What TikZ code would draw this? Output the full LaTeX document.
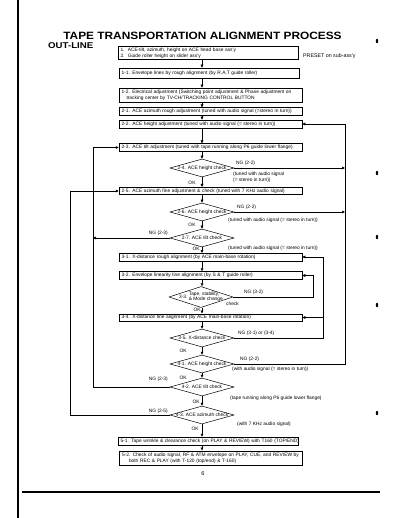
\documentclass[tikz,border=0pt]{standalone}
\usepackage{fontspec}
\setmainfont{Liberation Sans}
\usepackage{graphicx}
\usetikzlibrary{shapes.geometric,arrows.meta}
\newcommand{\dt}[1]{\makebox[0pt]{\raisebox{-1.6pt}[0pt][0pt]{#1}}}
\newcommand{\bxl}[1]{\mbox{#1}}
\begin{document}
\begin{tikzpicture}[x=1pt,y=-1pt,
  every node/.style={font=\fontsize{4.85}{5.8}\selectfont, inner sep=0pt},
  box/.style={draw, line width=0.5pt, rectangle, align=left, inner xsep=2.5pt, inner ysep=0.8pt, text width=#1},
  box/.default=178pt,
  dia/.style={draw, line width=0.5pt, diamond, minimum width=64pt, minimum height=18pt, inner sep=0pt},
  arr/.style={line width=0.5pt, -{Triangle[length=3pt,width=2.6pt]}}
]
\useasboundingbox (0,0) rectangle (400,518);
% page edges from the scan
\draw[line width=1.6pt] (18,0) -- (18,518);
\draw[line width=1.3pt] (22,492) -- (380,492);
\foreach \yy in {41,173,237,305,413} \fill (377,\yy) ellipse (1.2pt and 2.2pt);

% title
\node (title) at (202.5,35.8) {\scalebox{1.12}[1]{\fontsize{10.6}{12}\selectfont\bfseries TAPE TRANSPORTATION ALIGNMENT PROCESS}};
\node[anchor=west] (outline) at (48,45.5) {\scalebox{1.15}[1]{\fontsize{8.4}{10}\selectfont\bfseries OUT-LINE}};

% axis coordinates
\coordinate (ax) at (202,0);
\coordinate (r1) at (345,0);
\coordinate (r2) at (323,0);
\coordinate (r3) at (313,0);
\coordinate (l1) at (93,0);
\coordinate (l2) at (70,0);

% boxes and decisions
\node[box=175pt, minimum height=13.5pt] (b0) at (208,53) {\bxl{1.\ \ ACE-tilt, azimuth, height on ACE head base ass'y}\\\bxl{2.\ \ Guide roller height on slider ass'y}};
\node[anchor=west, font=\fontsize{5.3}{6}\selectfont] (pre) at (303,56) {PRESET on sub-ass'y};
\node[box=175pt, minimum height=10pt] (b11) at (209,73) {\bxl{1-1. Envelope lines by rough alignment (by R.A.T guide roller)}};
\node[box, minimum height=14pt] (b12) at (210.5,95) {\bxl{1-2. Electrical adjustment (Switching point adjustment \& Phase adjustment on}\\\bxl{\hspace*{5pt}tracking center by TV-CH/TRACKING CONTROL BUTTON}};
\node[box, minimum height=7.5pt] (b21) at (210.5,111.5) {\bxl{2-1. ACE azimuth rough adjustment (tuned with audio signal (=stereo in turn))}};
\node[box, minimum height=8pt] (b22) at (210.5,124) {\bxl{2-2. ACE height adjustment (tuned with audio signal (= stereo in turn))}};
\node[box, minimum height=7.5pt] (b23) at (210.5,147.5) {\bxl{2-3. ACE tilt adjustment (tuned with tape running along P6 guide lower flange)}};
\node[dia] (d24) at (202,168) {\dt{2-4. ACE height check}};
\node[box, minimum height=7.5pt] (b25) at (210.5,191) {\bxl{2-5. ACE azimuth fine adjustment \& check (tuned with 7 KHz audio signal)}};
\node[dia] (d26) at (202,212) {\dt{2-6. ACE height check}};
\node[dia] (d27) at (202,238) {\dt{2-7. ACE tilt check}};
\node[box, minimum height=7.5pt] (b31) at (210.5,257) {\bxl{3-1. X-distance rough alignment (by ACE main-base rotation)}};
\node[box, minimum height=8pt] (b32) at (210.5,275.5) {\bxl{3-2. Envelope linearity line alignment (by S \& T guide roller)}};
\node[dia, minimum height=21pt] (d33) at (201,297) {\dt{3-3.\ \renewcommand{\arraystretch}{0.8}\begin{tabular}[c]{@{}l@{}}Tape, stability,\\ \& Mode change\end{tabular}}};
\node[box, minimum height=7.5pt] (b34) at (210.5,317.5) {\bxl{3-4. X-distance fine alignment (by ACE main-base rotation)}};
\node[dia] (d35) at (202,338) {\dt{3-5. X-distance check}};
\node[dia] (d41) at (202,364) {\dt{4-1. ACE height check}};
\node[dia] (d42) at (202,387) {\dt{4-2. ACE tilt check}};
\node[dia] (d43) at (202,415) {\dt{4-3. ACE azimuth check}};
\node[box=175pt, minimum height=8pt] (b51) at (208,441) {\bxl{5-1. Tape wrinkle \& clearance check (on PLAY \& REVIEW) with T160 (TOP/END)}};
\node[box, minimum height=14.5pt] (b52) at (211,458) {\bxl{5-2. Check of audio signal, RF \& ATM envelope on PLAY, CUE, and REVIEW by}\\\bxl{\hspace*{7pt}both REC \& PLAY (with T-120 (top/end) \& T-160)}};

% main flow
\foreach \a/\b in {b0/b11,b11/b12,b12/b21,b21/b22,b22/b23,b23/d24,d24/b25,b25/d26,d26/d27,d27/b31,b31/b32,b32/d33,d33/b34,b34/d35,d35/d41,d41/d42,d42/d43,d43/b51,b51/b52}
  \draw[arr] (\a.south -| ax) -- (\b.north -| ax);

% OK labels
\node (ok1) at (192,182.5) {OK};
\node (ok2) at (192,225) {OK};
\node (ok3) at (196,248.5) {OK};
\node (ok4) at (197,309.5) {OK};
\node (ok5) at (183,351) {OK};
\node (ok6) at (183,377.5) {OK};
\node (ok7) at (196,401.5) {OK};
\node (ok8) at (195,429) {OK};

% NG loops to the right
\draw[arr] (d24.east) -- (d24.east -| r1);
\draw[arr] (d26.east) -- (d26.east -| r1);
\draw[arr] (d41.east) -- (d41.east -| r1) -- (b22.east -| r1) -- (b22.east);
\draw[arr] (d33.east) -- (d33.east -| r3) -- (b32.east -| r3) -- (b32.east);
\draw[arr] (d35.east) -- (d35.east -| r2) -- (b31.east -| r2) -- (b31.east);
\draw[arr] (b34.east -| r2) -- (b34.east);

% NG loops to the left
\draw[arr] (d27.west) -- (d27.west -| l1);
\draw[arr] (d42.west) -- (d42.west -| l1) -- (b23.west -| l1) -- (b23.west);
\draw[arr] (d43.west) -- (d43.west -| l2) -- (b25.west -| l2) -- (b25.west);

% NG labels
\node[anchor=west] (ng24) at (236,163) {NG (2-2)};
\node[anchor=west, align=left] (t24) at (233,177.5) {(tuned with audio signal\\(= stereo in turn))};
\node[anchor=west] (ng26) at (237,207) {NG (2-2)};
\node[anchor=west] (t26) at (228,220) {(tuned with audio signal (= stereo in turn))};
\node[anchor=east] (ng27) at (168,233) {NG (2-3)};
\node[anchor=west] (t27) at (228,248) {(tuned with audio signal (= stereo in turn))};
\node[anchor=west] (ng33) at (244,292.5) {NG (3-2)};
\node[anchor=west] (ck33) at (226,304) {check};
\node[anchor=west] (ng35) at (238,333) {NG (3-1) or (3-4)};
\node[anchor=west] (ng41) at (240,359.5) {NG (2-2)};
\node[anchor=west] (t41) at (232,369) {(with audio signal (= stereo in turn))};
\node[anchor=east] (ng42) at (168,379) {NG (2-3)};
\node[anchor=west] (t42) at (230,398) {(tape running along P6 guide lower flange)};
\node[anchor=east] (ng43) at (168,411) {NG (2-5)};
\node[anchor=west] (t43) at (237,424) {(with 7 KHz audio signal)};

\node (pg) at (203,473.5) {\fontsize{5.5}{6}\selectfont 6};
\end{tikzpicture}
\end{document}
